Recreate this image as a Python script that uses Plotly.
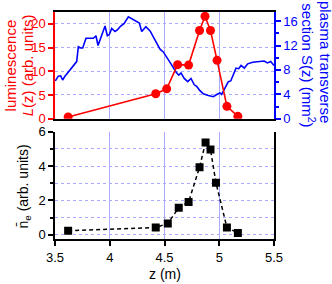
import plotly.graph_objects as go

# Luminescence L(z) (red, left axis of top panel)
z_lum = [3.62, 4.42, 4.52, 4.62, 4.72, 4.82, 4.87, 4.92, 4.98, 5.07, 5.17]
lum = [0.35, 5.25, 6.3, 11.4, 11.3, 18.6, 21.6, 18.6, 12.3, 2.6, 0.5]

# Plasma transverse section S(z) (blue, right axis of top panel)
z_sec = [3.503, 3.53, 3.552, 3.57, 3.591, 3.637, 3.683, 3.698, 3.713, 3.734, 3.753,
         3.783, 3.82, 3.85, 3.874, 3.893, 3.957, 3.978, 3.996, 4.018, 4.048, 4.069,
         4.10, 4.13, 4.17, 4.215, 4.27, 4.292, 4.33, 4.368, 4.413, 4.459, 4.489,
         4.514, 4.559, 4.605, 4.63, 4.651, 4.68, 4.712, 4.742, 4.772, 4.794, 4.824,
         4.854, 4.90, 4.946, 4.977, 5.007, 5.022, 5.053, 5.083, 5.105, 5.128, 5.153,
         5.178, 5.199, 5.229, 5.26, 5.305, 5.366, 5.41, 5.44, 5.47, 5.50]
sec = [6.19, 6.98, 7.03, 6.35, 6.98, 7.94, 9.0, 9.37, 11.8, 11.6, 11.6,
       13.2, 13.2, 13.2, 13.6, 12.0, 15.2, 13.6, 13.8, 14.8, 14.3, 14.55,
       15.2, 15.6, 16.7, 16.2, 15.7, 14.3, 15.1, 14.4, 13.0, 11.4, 10.95,
       10.3, 9.0, 7.67, 7.14, 7.5, 6.6, 6.08, 6.6, 5.56, 5.29, 4.6,
       4.07, 3.81, 3.6, 3.97, 4.23, 3.97, 5.13, 6.08, 6.19, 7.14, 8.3,
       8.2, 8.73, 8.3, 9.0, 9.25, 9.37, 9.47, 9.15, 9.37, 8.73]

# Mean electron density (black squares, bottom panel)
z_ne = [3.62, 4.42, 4.53, 4.63, 4.72, 4.82, 4.875, 4.92, 4.97, 5.07, 5.17]
ne = [0.23, 0.42, 0.66, 1.57, 1.91, 3.94, 5.38, 4.97, 3.03, 0.42, 0.1]

x_ticks = [3.5, 4, 4.5, 5, 5.5]
x_ticklabels = ["3.5", "4", "4.5", "5", "5.5"]

FONT = "Arial, Liberation Sans, sans-serif"
GRID = "rgb(170,170,255)"

fig = go.Figure()

fig.add_trace(go.Scatter(x=z_sec, y=sec, mode="lines", xaxis="x2", yaxis="y",
                         line=dict(color="#0000ff", width=1.6), showlegend=False))
fig.add_trace(go.Scatter(x=z_lum, y=lum, mode="lines+markers", xaxis="x2", yaxis="y2",
                         line=dict(color="#ff0000", width=1.6),
                         marker=dict(color="#ff0000", size=9, symbol="circle"),
                         showlegend=False))
fig.add_trace(go.Scatter(x=z_ne, y=ne, mode="lines+markers", xaxis="x", yaxis="y3",
                         line=dict(color="black", width=1.5, dash="4px,3px"),
                         marker=dict(color="black", size=8, symbol="square"),
                         showlegend=False))

fig.update_layout(
    width=332, height=284,
    margin=dict(l=55, r=58, t=5, b=45),
    paper_bgcolor="white", plot_bgcolor="white",
    font=dict(family=FONT, size=13, color="black"),
    xaxis=dict(domain=[0, 1], anchor="y3", range=[3.5, 5.5],
               tickvals=x_ticks, ticktext=x_ticklabels,
               showgrid=True, gridcolor=GRID, gridwidth=1,
               showline=True, linecolor="black", linewidth=2,
               ticks="outside", ticklen=5, tickcolor="black", tickwidth=1.5,
               zeroline=False, tickfont=dict(size=13, color="black")),
    xaxis2=dict(domain=[0, 1], anchor="y", range=[3.5, 5.5], matches="x",
                tickvals=x_ticks, showticklabels=False,
                showgrid=True, gridcolor=GRID, gridwidth=1,
                showline=True, mirror=True, linecolor="black", linewidth=2,
                ticks="", zeroline=False),
    yaxis=dict(domain=[0.53, 1], anchor="x2", side="right", range=[0, 17.5],
               tickvals=[0, 4, 8, 12, 16],
               showgrid=False, zeroline=False,
               showline=True, linecolor="#0000ff", linewidth=1.5,
               ticks="outside", ticklen=5, tickcolor="#0000ff", tickwidth=1.5,
               tickfont=dict(size=13, color="#0000ff"),
               minor=dict(dtick=2, ticks="outside", ticklen=3, tickcolor="#0000ff")),
    yaxis2=dict(overlaying="y", anchor="x2", side="left", range=[0, 22.5],
                tickvals=[0, 5, 10, 15, 20],
                showgrid=True, gridcolor=GRID, griddash="dot", gridwidth=1.2,
                zeroline=False,
                showline=True, linecolor="#ff0000", linewidth=1.5,
                ticks="outside", ticklen=5, tickcolor="#ff0000", tickwidth=1.5,
                tickfont=dict(size=13, color="#ff0000")),
    yaxis3=dict(domain=[0, 0.472], anchor="x", range=[-0.25, 6],
                tickvals=[0, 2, 4, 6],
                showgrid=True, gridcolor=GRID, griddash="dot", gridwidth=1.2,
                zeroline=False,
                showline=True, mirror=True, linecolor="black", linewidth=1.5,
                ticks="outside", ticklen=5, tickcolor="black", tickwidth=1.5,
                tickfont=dict(size=13, color="black"),
                minor=dict(dtick=1, ticks="outside", ticklen=3, tickcolor="black",
                           showgrid=True, gridcolor=GRID, griddash="dot", gridwidth=1.2)),
)

ann = [
    dict(text="luminescence", x=-0.205, y=0.765, textangle=-90,
         font=dict(size=15, color="#ff0000")),
    dict(text="<i>L</i>(z) (arb. units)", x=-0.128, y=0.765, textangle=-90,
         font=dict(size=15, color="#ff0000")),
    dict(text="plasma transverse", x=1.233, y=0.78, textangle=90,
         font=dict(size=15, color="#0000ff")),
    dict(text="section S(z) (mm<sup>2</sup>)", x=1.160, y=0.765, textangle=90,
         font=dict(size=15, color="#0000ff")),
    dict(text="n\u0304<sub>e</sub> (arb. units)", x=-0.142, y=0.231, textangle=-90,
         font=dict(size=14, color="black")),
    dict(text="z (m)", x=0.50, y=-0.154,
         font=dict(size=14, color="black")),
]
for a in ann:
    a.update(xref="paper", yref="paper", showarrow=False,
             xanchor="center", yanchor="middle")
fig.update_layout(annotations=ann)

fig.write_html("out.html", config={"displayModeBar": False},
               post_script="document.body.style.margin='0';document.body.style.overflow='hidden';")
